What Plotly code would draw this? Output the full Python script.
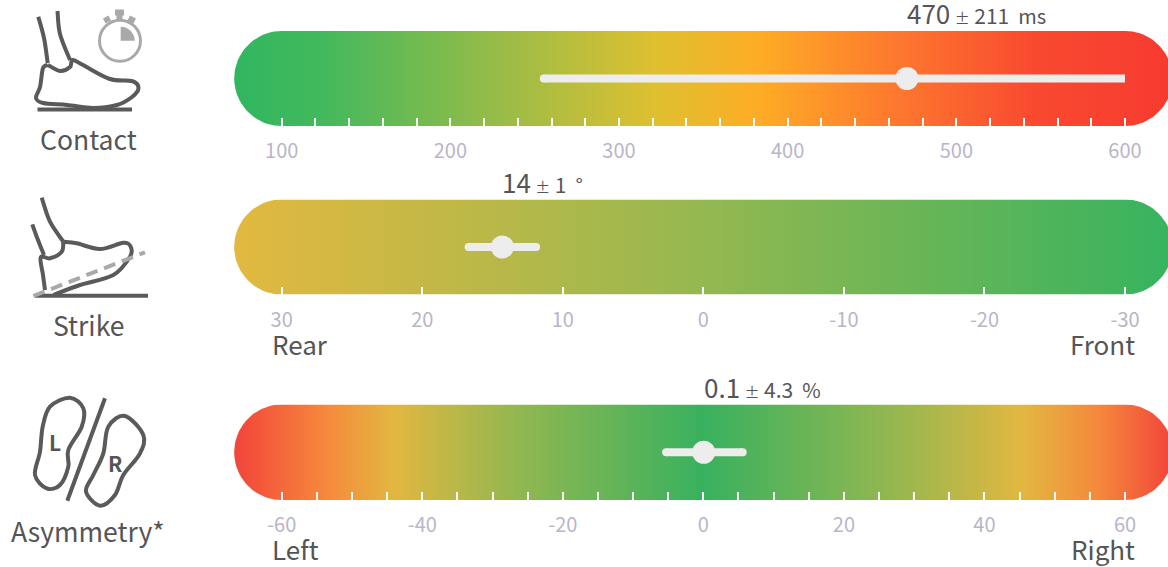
import math
import plotly.graph_objects as go

FONT = "Noto Sans CJK SC"
W, H = 1168, 567
TEXT = "#555555"
TICKTXT = "#b9b5c9"
ICON = "#5a5a58"
ICON2 = "#a9a9a9"
WHISK = "#ededed"

names = ["Contact", "Strike", "Asymmetry*"]
values = [470, 14, 0.1]
spreads = ["211", "1", "4.3"]
units = ["ms", "°", "%"]
marker_pos = [470.7, 14.3, 0.05]
whisker_lo = [255.4, 16.7, -5.3]
whisker_hi = [600, 11.9, 5.6]
axis_left = [100, 30, -60]
axis_right = [600, -30, 60]
tick_vals = [
    [100, 120, 140, 160, 180, 200, 220, 240, 260, 280, 300, 320, 340, 360, 380, 400, 420, 440, 460, 480, 500, 520, 540, 560, 580, 600],
    [30, 20, 10, 0, -10, -20, -30],
    [-60, -55, -50, -45, -40, -35, -30, -25, -20, -15, -10, -5, 0, 5, 10, 15, 20, 25, 30, 35, 40, 45, 50, 55, 60],
]
label_vals = [
    [100, 200, 300, 400, 500, 600],
    [30, 20, 10, 0, -10, -20, -30],
    [-60, -40, -20, 0, 20, 40, 60],
]
end_labels = [None, ("Rear", "Front"), ("Left", "Right")]
gradients = [
    [[0, "#2fb660"], [0.1, "#45b95c"], [0.3, "#a0bc45"], [0.45, "#dfc030"], [0.56, "#feac25"], [0.7, "#fd7a2e"], [0.85, "#f94a30"], [1, "#f73a2f"]],
    [[0, "#e3b840"], [0.25, "#bdb848"], [0.47, "#9ab84f"], [1, "#36b35f"]],
    [[0, "#f2443a"], [0.1, "#f68a3c"], [0.17, "#e2b740"], [0.3, "#93b750"], [0.5, "#38b15f"], [0.7, "#93b750"], [0.84, "#e2b740"], [0.92, "#f5893c"], [1, "#f2443a"]],
]

# pixel layout of each row
PX_L, PX_R = 281.7, 1125.0
ROW_TOP = [31, 199.5, 404.5]
ROW_BOT = [126, 294.5, 500]
NAME_Y = [138.5, 324, 530]
END_Y = [None, 343, 548]
TICK_STANDOFF = 11
CAP = 47.5

fig = go.Figure()
layout = {}
annotations = []

for i in range(3):
    n = "" if i == 0 else str(i + 1)
    a, b = axis_left[i], axis_right[i]
    upp = (b - a) / (PX_R - PX_L)
    x0 = a - PX_L * upp
    x1 = a + (W - PX_L) * upp
    show = set(label_vals[i])
    layout[f"xaxis{n}"] = dict(
        domain=[0, 1], range=[x0, x1], anchor=f"y{n}",
        tickmode="array", tickvals=tick_vals[i],
        ticktext=[str(v) if v in show else "" for v in tick_vals[i]],
        ticks="inside", ticklen=8, tickwidth=2, tickcolor="#ffffff",
        tickfont=dict(family=FONT, size=20, color=TICKTXT),
        ticklabelstandoff=TICK_STANDOFF,
        showgrid=False, zeroline=False, showline=False, fixedrange=True,
    )
    layout[f"yaxis{n}"] = dict(
        domain=[1 - ROW_BOT[i] / H, 1 - ROW_TOP[i] / H], range=[-1, 1],
        anchor=f"x{n}", visible=False, fixedrange=True,
    )
    # capsule with a horizontal gradient, built from the axis end values
    rx = CAP * upp
    xs, ys = [], []
    for k in range(41):
        t = -math.pi / 2 + math.pi * k / 40
        xs.append(b + rx * math.cos(t)); ys.append(math.sin(t))
    for k in range(41):
        t = math.pi / 2 + math.pi * k / 40
        xs.append(a + rx * math.cos(t)); ys.append(math.sin(t))
    xs.append(xs[0]); ys.append(ys[0])
    fig.add_trace(go.Scatter(
        x=xs, y=ys, xaxis=f"x{n}", yaxis=f"y{n}", mode="lines", fill="toself",
        line=dict(width=0), hoverinfo="skip", showlegend=False,
        fillgradient=dict(type="horizontal", colorscale=gradients[i], start=a - rx, stop=b + rx),
    ))
    # whisker and value marker
    fig.add_trace(go.Scatter(
        x=[whisker_lo[i], whisker_hi[i]], y=[0, 0], xaxis=f"x{n}", yaxis=f"y{n}",
        mode="lines+markers", line=dict(color=WHISK, width=8),
        marker=dict(color=WHISK, size=[8, 0 if i == 0 else 8], opacity=1, line=dict(width=0)),
        hoverinfo="skip", showlegend=False,
    ))
    fig.add_trace(go.Scatter(
        x=[marker_pos[i]], y=[0], xaxis=f"x{n}", yaxis=f"y{n}", mode="markers",
        marker=dict(color=WHISK, size=23), hoverinfo="skip", showlegend=False,
    ))
    annotations.append(dict(
        xref=f"x{n}", yref=f"y{n}", x=marker_pos[i], y=1, xanchor="left", yanchor="bottom", yshift=-2, xshift=-2,
        showarrow=False, align="left",
        text=f"<span style='font-size:26px'>{values[i]}</span> <span style='font-size:15px'>±</span> <span style='font-size:21px'>{spreads[i]}</span>  {units[i]}",
        font=dict(family=FONT, size=20, color=TEXT),
    ))
    annotations.append(dict(
        xref="paper", yref="paper", x=88 / W, y=1 - NAME_Y[i] / H, xanchor="center", yanchor="middle",
        showarrow=False, text=names[i], font=dict(family=FONT, size=26.5, color=TEXT),
    ))
    if end_labels[i]:
        annotations.append(dict(
            xref="paper", yref="paper", x=270 / W, y=1 - END_Y[i] / H, xanchor="left", yanchor="middle",
            showarrow=False, text=end_labels[i][0], font=dict(family=FONT, size=26, color=TEXT),
        ))
        annotations.append(dict(
            xref="paper", yref="paper", x=1137 / W, y=1 - END_Y[i] / H, xanchor="right", yanchor="middle",
            showarrow=False, text=end_labels[i][1], font=dict(family=FONT, size=26, color=TEXT),
        ))

# overlay pixel axes for the pictograms
layout["xaxis4"] = dict(domain=[0, 1], range=[0, W], visible=False, fixedrange=True, anchor="y4")
layout["yaxis4"] = dict(domain=[0, 1], range=[H, 0], visible=False, fixedrange=True, anchor="x4")


def smooth(points, closed=False):
    """Catmull-Rom through points as an SVG cubic path."""
    pts = list(points)
    m = len(pts)
    def p(j):
        return pts[j % m] if closed else pts[max(0, min(m - 1, j))]
    d = f"M{pts[0][0]},{pts[0][1]}"
    for j in range(m if closed else m - 1):
        p0, p1, p2, p3 = p(j - 1), p(j), p(j + 1), p(j + 2)
        c1 = (p1[0] + (p2[0] - p0[0]) / 6, p1[1] + (p2[1] - p0[1]) / 6)
        c2 = (p2[0] - (p3[0] - p1[0]) / 6, p2[1] - (p3[1] - p1[1]) / 6)
        d += f" C{c1[0]:.1f},{c1[1]:.1f} {c2[0]:.1f},{c2[1]:.1f} {p2[0]:.1f},{p2[1]:.1f}"
    return d + (" Z" if closed else "")


shapes = []
def stroke(d, color=ICON, width=4, dash=None, fill=None):
    s = dict(type="path", xref="x4", yref="y4", path=d, line=dict(color=color, width=width))
    if dash:
        s["line"]["dash"] = dash
    if fill:
        s["fillcolor"] = fill
    shapes.append(s)

# Contact pictogram
stroke(smooth([(38.3, 16.7), (44, 38), (47.7, 63)]))
stroke(smooth([(57.5, 11), (60, 34), (70, 60)]))
stroke(smooth([(48, 65), (60, 71), (70, 67), (72.5, 60), (83, 65), (110, 79), (132, 81), (138.5, 88),
               (132, 97), (117, 105), (93, 108), (67, 105), (43, 103), (36, 98), (40, 87), (43, 68), (48, 65)]))
stroke("M37.5,109.5 L132,109.5")
shapes.append(dict(type="circle", xref="x4", yref="y4", x0=99.5, x1=140.5, y0=20.2, y1=61.2,
                   line=dict(color=ICON2, width=3)))
stroke("M120.7,40.7 L120.7,26.7 C128.4,26.7 134.7,33 134.7,40.7 Z", ICON2, 0, fill=ICON2)
stroke("M115,9.5 L124,9.5 L124,15.5 L122.5,15.5 L122.5,21 L116.5,21 L116.5,15.5 L115,15.5 Z", ICON2, 0, fill=ICON2)
stroke("M103,18.5 L108.5,15.5 L111,20.5 L105.5,23.5 Z", ICON2, 0, fill=ICON2)
stroke("M130,15.5 L136,18.5 L133.5,23.5 L127.5,20.5 Z", ICON2, 0, fill=ICON2)

# Strike pictogram
stroke(smooth([(32.3, 224.3), (38, 240), (44, 255)]))
stroke(smooth([(41.7, 197.7), (50, 221.7), (63.3, 241.7)]))
stroke(smooth([(63.3, 241.7), (76.7, 243.3), (100, 249), (123.3, 242.7), (130.7, 246.7), (130, 256.7),
               (113.3, 275), (80, 285), (53.3, 295)]))
stroke(smooth([(63.3, 241.7), (61.7, 251.7), (50, 258.3), (40.7, 257.3), (43, 275), (45, 290)]))
stroke("M35,295.7 L148,295.7")
stroke("M33.3,296 L145,252.3", ICON2, 4, dash="12px,7px")

# Asymmetry pictogram
stroke(smooth([(70, 397.7), (83.3, 408.3), (81.7, 426.7), (68.3, 450), (68.3, 466.7), (60, 485), (46.7, 488.3),
               (35, 475), (40, 451.7), (42.7, 426.7), (50, 406.7)], closed=True))
stroke("M105,398.3 L67.3,500.7")
stroke(smooth([(125, 416), (143.3, 435), (140, 453.3), (123.3, 475), (115, 495), (100, 505.7), (86, 491.7),
               (93.3, 475), (103.3, 453.3), (108.3, 426.7)], closed=True))
annotations.append(dict(xref="x4", yref="y4", x=55, y=441.7, text="<b>L</b>", showarrow=False,
                        font=dict(family=FONT, size=21, color=TEXT)))
annotations.append(dict(xref="x4", yref="y4", x=115, y=463.3, text="<b>R</b>", showarrow=False,
                        font=dict(family=FONT, size=21, color=TEXT)))

fig.update_layout(
    width=W, height=H, margin=dict(l=0, r=0, t=0, b=0), paper_bgcolor="#ffffff", plot_bgcolor="rgba(0,0,0,0)",
    showlegend=False, annotations=annotations, shapes=shapes, **layout,
)
fig.write_html("out.html", config=dict(displayModeBar=False), post_script="document.body.style.margin='0';")
